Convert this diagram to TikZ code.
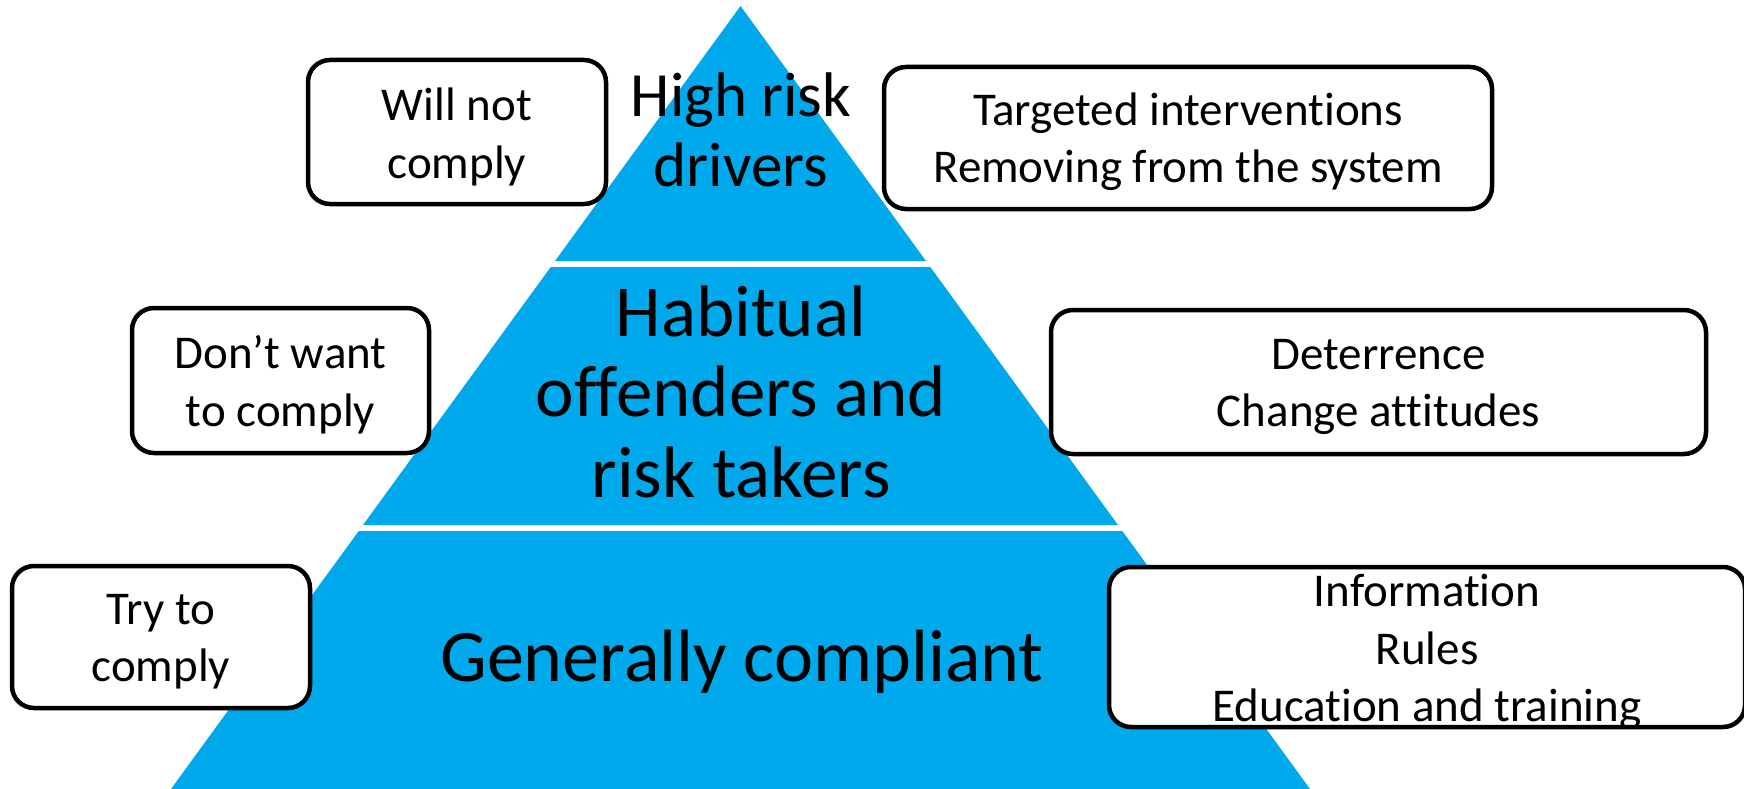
\documentclass[tikz,border=0pt]{standalone}
\usepackage{fontspec}
\setmainfont{Carlito}[Ligatures=NoCommon]
\definecolor{pyr}{HTML}{00A8EC}
\begin{document}
\begin{tikzpicture}[x=1pt,y=-1pt,
  box/.style={draw=black, line width=4.5pt, rounded corners=22pt, fill=white, inner sep=0pt},
  boxtext/.style={align=center, font=\fontsize{47}{57.5}\selectfont, inner sep=0pt},
  tier/.style={fill=pyr},
  tiertext/.style={align=center, inner sep=0pt, anchor=base}
]
\useasboundingbox (0,0) rectangle (1744,789);
% pyramid tiers
\fill[tier] (740.5,6) -- (926,261) -- (555,261) -- cycle;
\fill[tier] (550.7,267) -- (930.3,267) -- (1118,525) -- (363,525) -- cycle;
\fill[tier] (358.7,531) -- (1122.3,531) -- (1310,789) -- (171,789) -- cycle;
% tier texts (base anchor = last line baseline)
\node[tiertext, font=\fontsize{63}{69.5}\selectfont] (high) at (741,186) {High risk\\drivers};
\node[tiertext, font=\fontsize{73}{80.5}\selectfont] (habit) at (741,497) {Habitual\\offenders and\\risk takers};
\node[tiertext, font=\fontsize{74}{82}\selectfont] (gen) at (742,681) {Generally compliant};
% side boxes
\node[box, minimum width=298pt, minimum height=144pt] (will) at (457,132) {};
\node[boxtext] (willt) at ([yshift=-5pt]will.center) {Will not\\comply};
\node[box, minimum width=608pt, minimum height=142pt] (target) at (1188,138) {};
\node[boxtext] (targett) at ([yshift=-3.5pt]target.center) {Targeted interventions\\Removing from the system};
\node[box, minimum width=297pt, minimum height=145pt] (dont) at (280.5,380.5) {};
\node[boxtext] (dontt) at ([yshift=-4pt]dont.center) {Don’t want\\to comply};
\node[box, minimum width=655pt, minimum height=144pt] (deter) at (1378.5,382) {};
\node[boxtext] (detert) at ([yshift=-5pt]deter.center) {Deterrence\\Change attitudes};
\node[box, minimum width=298pt, minimum height=142pt] (try) at (161,637) {};
\node[boxtext] (tryt) at ([yshift=-4.5pt]try.center) {Try to\\comply};
\node[box, minimum width=636pt, minimum height=160pt] (info) at (1427,647) {};
\node[boxtext] (infot) at ([yshift=-5pt]info.center) {Information\\Rules\\Education and training};
\end{tikzpicture}
\end{document}
